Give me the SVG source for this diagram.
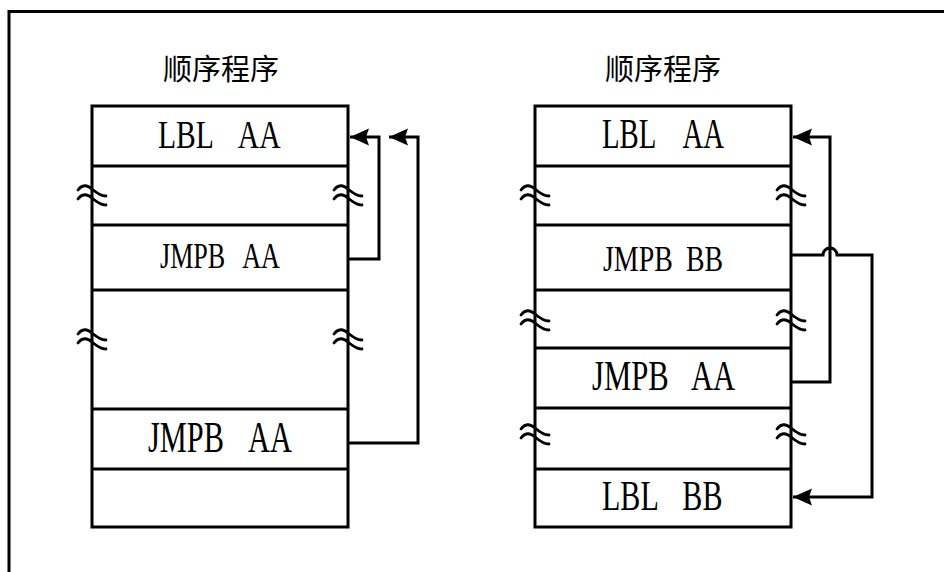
<svg xmlns="http://www.w3.org/2000/svg" xmlns:xlink="http://www.w3.org/1999/xlink" width="944" height="572" viewBox="0 0 944 572">
<style>
.frame{fill:none;stroke:#000;stroke-width:3}
.box{fill:#fff;stroke:#000;stroke-width:3}
.sep{stroke:#000;stroke-width:3}
.brk{fill:none;stroke:#000;stroke-width:2.8;stroke-linecap:round}
.lbl{font-family:"Liberation Serif","Times New Roman",serif;fill:#000}
.title{font-family:"Noto Sans CJK SC","Noto Sans",sans-serif;font-size:29px;fill:#000;text-anchor:middle}
.conn{fill:none;stroke:#000;stroke-width:3}
</style>
<defs>
<marker id="ah" markerUnits="userSpaceOnUse" markerWidth="22" markerHeight="20" refX="19" refY="8.5" orient="auto">
<path d="M0,0 L19,8.5 L0,17 L3,8.5 z" fill="#000"/>
</marker>
<g id="brk">
<path class="brk" d="M-14,-3 Q-8,-11 0,-4 T14,3"/>
<path class="brk" d="M-14,6 Q-8,-2 0,5 T14,12"/>
</g>
</defs>
<path class="frame" d="M9,580 V11.5 H950"/>

<g id="left-title"><text class="title" x="221" y="80">顺序程序</text></g>
<g id="right-title"><text class="title" x="663" y="80">顺序程序</text></g>

<g id="left-program">
<rect class="box" x="92" y="106" width="256" height="421"/>
<line class="sep" x1="92" y1="166" x2="348" y2="166"/>
<line class="sep" x1="92" y1="225" x2="348" y2="225"/>
<line class="sep" x1="92" y1="290" x2="348" y2="290"/>
<line class="sep" x1="92" y1="409" x2="348" y2="409"/>
<line class="sep" x1="92" y1="469" x2="348" y2="469"/>
<use xlink:href="#brk" x="92" y="193"/>
<use xlink:href="#brk" x="348" y="193"/>
<use xlink:href="#brk" x="92" y="337"/>
<use xlink:href="#brk" x="348" y="337"/>
</g>
<g id="left-lbl-aa"><text class="lbl" font-size="39" transform="translate(158,148) scale(0.76,1)">LBL <tspan dx="23">AA</tspan></text></g>
<g id="left-jmpb-aa-1"><text class="lbl" font-size="35" transform="translate(160,268) scale(0.746,1)">JMPB <tspan dx="14">AA</tspan></text></g>
<g id="left-jmpb-aa-2"><text class="lbl" font-size="44" transform="translate(148,452) scale(0.69,1)">JMPB <tspan dx="24">AA</tspan></text></g>

<g id="right-program">
<rect class="box" x="535" y="106" width="256" height="421"/>
<line class="sep" x1="535" y1="166" x2="791" y2="166"/>
<line class="sep" x1="535" y1="225" x2="791" y2="225"/>
<line class="sep" x1="535" y1="290" x2="791" y2="290"/>
<line class="sep" x1="535" y1="348" x2="791" y2="348"/>
<line class="sep" x1="535" y1="408" x2="791" y2="408"/>
<line class="sep" x1="535" y1="469" x2="791" y2="469"/>
<use xlink:href="#brk" x="535" y="193"/>
<use xlink:href="#brk" x="791" y="193"/>
<use xlink:href="#brk" x="535" y="318"/>
<use xlink:href="#brk" x="791" y="318"/>
<use xlink:href="#brk" x="535" y="432"/>
<use xlink:href="#brk" x="791" y="432"/>
</g>
<g id="right-lbl-aa"><text class="lbl" font-size="42" transform="translate(602,148) scale(0.686,1)">LBL <tspan dx="29">AA</tspan></text></g>
<g id="right-jmpb-bb"><text class="lbl" font-size="36" transform="translate(603,271) scale(0.775,1)">JMPB <tspan dx="8">BB</tspan></text></g>
<g id="right-jmpb-aa"><text class="lbl" font-size="42" transform="translate(592,390) scale(0.73,1)">JMPB <tspan dx="20">AA</tspan></text></g>
<g id="right-lbl-bb"><text class="lbl" font-size="42" transform="translate(602,510) scale(0.716,1)">LBL <tspan dx="24">BB</tspan></text></g>

<g id="connectors">
<path class="conn" d="M348,259 H379 V137 H350" marker-end="url(#ah)"/>
<path class="conn" d="M348,443 H418 V137 H389" marker-end="url(#ah)"/>
<path class="conn" d="M791,382 H830 V137 H793" marker-end="url(#ah)"/>
<path class="conn" d="M791,255 H823 A7,7 0 0 1 837,255 H872 V497 H793" marker-end="url(#ah)"/>
</g>
</svg>
